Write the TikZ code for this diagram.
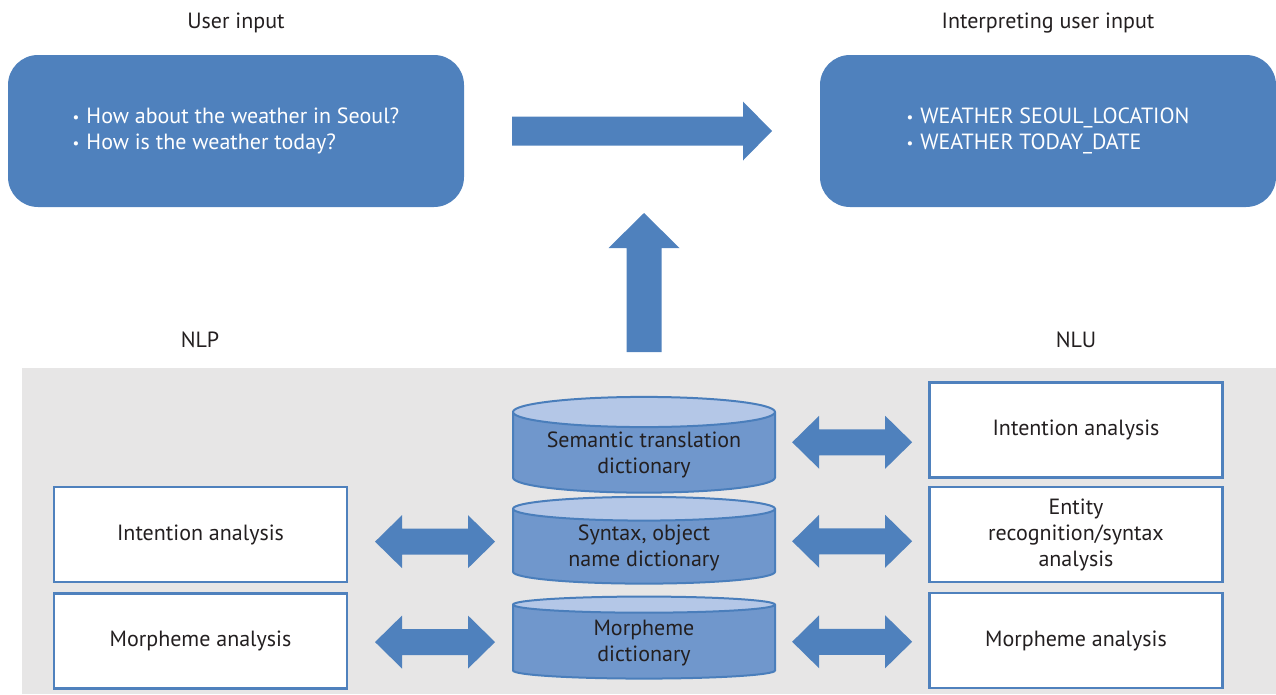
\documentclass[tikz,border=0pt]{standalone}
\usepackage{fontspec}
\setmainfont{PT Sans}
\usetikzlibrary{shapes.geometric,positioning,calc}
\definecolor{boxblue}{HTML}{4F81BD}
\definecolor{lineblue}{HTML}{4A7EBB}
\definecolor{cylbody}{HTML}{7097CC}
\definecolor{cyltop}{HTML}{B4C7E7}
\definecolor{panelgray}{HTML}{E7E6E6}
\definecolor{textgray}{HTML}{231F20}
\newcommand{\bul}{{\fontsize{15}{15}\selectfont\raisebox{1pt}{•}}\hspace{7pt}}
\tikzset{
  rarrow/.pic={\fill[boxblue] (-130,-14.5) -- (101,-14.5) -- (101,-29.5) -- (130,0)
    -- (101,29.5) -- (101,14.5) -- (-130,14.5) -- cycle;},
  uarrow/.pic={\fill[boxblue] (-17.5,69.5) -- (-17.5,-34.5) -- (-35.5,-34.5) -- (0,-69.5)
    -- (35.5,-34.5) -- (17.5,-34.5) -- (17.5,69.5) -- cycle;},
  dblarrow/.pic={\fill[boxblue] (-60,0) -- (-33,-26.5) -- (-33,-13) -- (33,-13) -- (33,-26.5)
    -- (60,0) -- (33,26.5) -- (33,13) -- (-33,13) -- (-33,26.5) -- cycle;}
}
\begin{document}
\begin{tikzpicture}[x=1pt,y=-1pt,
    every node/.style={font=\fontsize{22}{26}\selectfont,text=textgray},
    bigbox/.style={rounded corners=30pt,fill=boxblue,minimum width=456pt,
      minimum height=152pt,text=white,align=left},
    anabox/.style={draw=boxblue,line width=2.5pt,fill=white,minimum width=293pt,
      minimum height=95pt,align=center},
    dict/.style={cylinder,shape border rotate=90,aspect=0.15,draw=lineblue,
      line width=2pt,cylinder uses custom fill,cylinder body fill=cylbody,
      cylinder end fill=cyltop,minimum width=262pt,minimum height=82pt,align=center}]
\useasboundingbox (0,0) rectangle (1276,694);
\fill[panelgray] (22,368) rectangle (1276,694);

% top row
\node (inlabel) at (236,23) {User input};
\node (outlabel) at (1048,23) {Interpreting user input};
\node[bigbox] (input) at (236,131)
  {\bul How about the weather in Seoul?\\
   \bul How is the weather today?};
\node[bigbox] (output) at (1048,131)
  {\bul WEATHER SEOUL\_LOCATION\\
   \bul WEATHER TODAY\_DATE\hspace{6pt}};
\pic at ($(input.east)!0.5!(output.west)$) {rarrow};
\pic at (644,282.5) {uarrow};

\node (nlp) at (200,340) {NLP};
\node (nlu) at (1076,340) {NLU};

% dictionaries
\node[dict] (semdict) at (644,454.5) {Semantic translation\\dictionary};
\node[dict] (syndict) at (644,548) {Syntax, object\\name dictionary};
\node[dict] (mordict) at (644,643) {Morpheme\\dictionary};

% NLU side
\node[anabox] (nluint) at (1076,430) {Intention analysis};
\node[anabox] (nluent) at (1076,534.5) {Entity\\recognition/syntax\\analysis};
\node[anabox] (nlumor) at (1076,640.5) {Morpheme analysis};

% NLP side
\node[anabox] (nlpint) at (200.5,534.5) {Intention analysis};
\node[anabox] (nlpmor) at (200.5,641) {Morpheme analysis};

% exchanges
\pic at ($(nlpint.east)!0.53!(syndict.west)$) {dblarrow};
\pic at ($(nlpmor.east)!0.53!(mordict.west)$) {dblarrow};
\pic at ($(semdict.east)!0.5!(nluint.west)$) {dblarrow};
\pic at ($(syndict.east)!0.5!(nluent.west)$) {dblarrow};
\pic at ($(mordict.east)!0.5!(nlumor.west)$) {dblarrow};
\end{tikzpicture}
\end{document}
